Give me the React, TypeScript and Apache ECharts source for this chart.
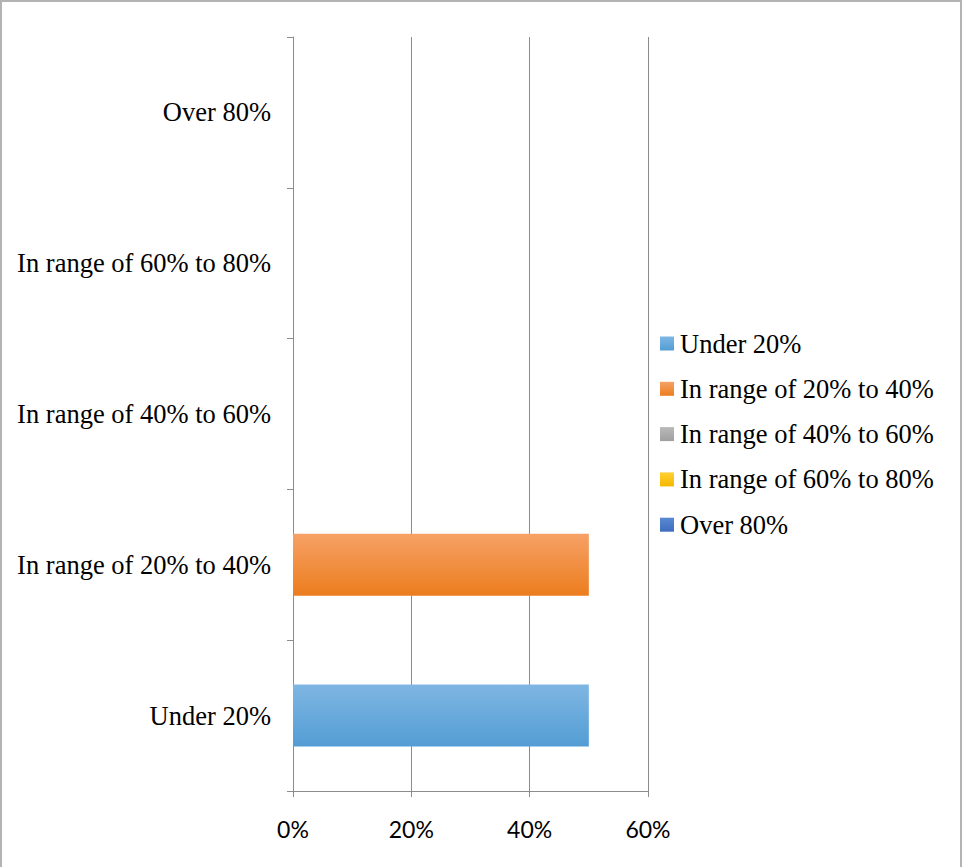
import React, { useEffect, useRef } from "react";
import * as echarts from "echarts";

// Categories (bottom to top on the vertical axis)
const categories = [
  "Under 20%",
  "In range of 20% to 40%",
  "In range of 40% to 60%",
  "In range of 60% to 80%",
  "Over 80%",
];

// Share of responses in each range
const shares = [0.5, 0.5, 0, 0, 0];

// Value axis ticks
const xMin = 0;
const xMax = 0.6;
const xStep = 0.2;

// Colour stops per series: [top, bottom]
const seriesColors: [string, string][] = [
  ["#7fb6e3", "#539dd4"],
  ["#f6a166", "#ec7d1e"],
  ["#b9b9b9", "#9f9f9f"],
  ["#ffcf33", "#f5b800"],
  ["#5a89d2", "#3f6dbf"],
];

const serif = "Liberation Serif";
const serifSize = 26.5;

export default function App() {
  const ref = useRef<HTMLDivElement>(null);

  useEffect(() => {
    if (!ref.current) return;
    const chart = echarts.init(ref.current, undefined, { renderer: "svg" });

    const series = categories.map((name, i) => ({
      name,
      type: "bar" as const,
      stack: "total",
      barWidth: 62,
      data: categories.map((_, j) => (j === i ? shares[i] : null)),
      itemStyle: {
        color: new echarts.graphic.LinearGradient(0, 0, 0, 1, [
          { offset: 0, color: seriesColors[i][0] },
          { offset: 1, color: seriesColors[i][1] },
        ]),
      },
    }));

    chart.setOption({
      animation: false,
      backgroundColor: "#ffffff",
      grid: { left: 293, right: 314, top: 37, bottom: 76, containLabel: false },
      legend: {
        orient: "vertical",
        left: 655,
        top: 325,
        icon: "rect",
        itemWidth: 14,
        itemHeight: 14,
        itemGap: 18.3,
        textStyle: { fontFamily: serif, fontSize: serifSize, color: "#000", padding: [0, 0, 0, 1] },
        data: categories,
      },
      xAxis: {
        type: "value",
        min: xMin,
        max: xMax,
        interval: xStep,
        axisLine: { show: true, lineStyle: { color: "#8c8c8c", width: 1 } },
        axisTick: { show: true, length: 6, lineStyle: { color: "#8c8c8c" } },
        splitLine: { show: true, lineStyle: { color: "#8c8c8c", width: 1 } },
        axisLabel: {
          fontFamily: "Lato",
          fontSize: 23,
          color: "#000",
          margin: 26,
          formatter: (v: number) => `${Math.round(v * 100)}%`,
        },
      },
      yAxis: {
        type: "category",
        data: categories,
        axisLine: { show: true, lineStyle: { color: "#8c8c8c", width: 1 } },
        axisTick: { show: true, length: 6, lineStyle: { color: "#8c8c8c" } },
        splitLine: { show: false },
        axisLabel: { fontFamily: serif, fontSize: serifSize, color: "#000", margin: 22 },
      },
      graphic: [
        {
          type: "polyline",
          shape: { points: [[1, 867], [1, 1], [961, 1], [961, 867]] },
          style: { stroke: "#b3b3b3", lineWidth: 2, fill: "none" },
          silent: true,
        },
      ],
      series,
    });

    return () => chart.dispose();
  }, []);

  return (
    <div
      ref={ref}
      style={{ position: "fixed", left: 0, top: 0, width: 962, height: 867 }}
    />
  );
}
